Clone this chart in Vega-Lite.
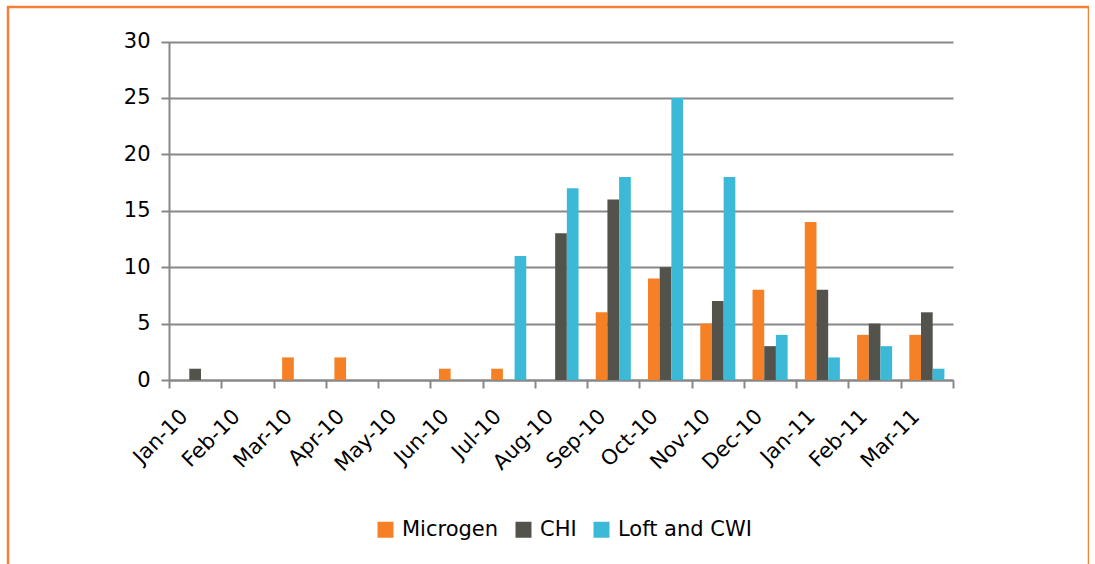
{
  "$schema": "https://vega.github.io/schema/vega-lite/v6.json",
  "width": 1081,
  "height": 600,
  "autosize": "none",
  "padding": {"left": 8, "top": 7, "right": 0, "bottom": 0},
  "background": "white",
  "config": {
    "view": {"stroke": "#F47F35", "strokeWidth": 2.5},
    "font": "DejaVu Sans"
  },
  "data": {
    "values": [
      {"month": "Jan-10", "series": "Microgen", "value": 0},
      {"month": "Jan-10", "series": "CHI", "value": 1},
      {"month": "Jan-10", "series": "Loft and CWI", "value": 0},
      {"month": "Feb-10", "series": "Microgen", "value": 0},
      {"month": "Feb-10", "series": "CHI", "value": 0},
      {"month": "Feb-10", "series": "Loft and CWI", "value": 0},
      {"month": "Mar-10", "series": "Microgen", "value": 2},
      {"month": "Mar-10", "series": "CHI", "value": 0},
      {"month": "Mar-10", "series": "Loft and CWI", "value": 0},
      {"month": "Apr-10", "series": "Microgen", "value": 2},
      {"month": "Apr-10", "series": "CHI", "value": 0},
      {"month": "Apr-10", "series": "Loft and CWI", "value": 0},
      {"month": "May-10", "series": "Microgen", "value": 0},
      {"month": "May-10", "series": "CHI", "value": 0},
      {"month": "May-10", "series": "Loft and CWI", "value": 0},
      {"month": "Jun-10", "series": "Microgen", "value": 1},
      {"month": "Jun-10", "series": "CHI", "value": 0},
      {"month": "Jun-10", "series": "Loft and CWI", "value": 0},
      {"month": "Jul-10", "series": "Microgen", "value": 1},
      {"month": "Jul-10", "series": "CHI", "value": 0},
      {"month": "Jul-10", "series": "Loft and CWI", "value": 11},
      {"month": "Aug-10", "series": "Microgen", "value": 0},
      {"month": "Aug-10", "series": "CHI", "value": 13},
      {"month": "Aug-10", "series": "Loft and CWI", "value": 17},
      {"month": "Sep-10", "series": "Microgen", "value": 6},
      {"month": "Sep-10", "series": "CHI", "value": 16},
      {"month": "Sep-10", "series": "Loft and CWI", "value": 18},
      {"month": "Oct-10", "series": "Microgen", "value": 9},
      {"month": "Oct-10", "series": "CHI", "value": 10},
      {"month": "Oct-10", "series": "Loft and CWI", "value": 25},
      {"month": "Nov-10", "series": "Microgen", "value": 5},
      {"month": "Nov-10", "series": "CHI", "value": 7},
      {"month": "Nov-10", "series": "Loft and CWI", "value": 18},
      {"month": "Dec-10", "series": "Microgen", "value": 8},
      {"month": "Dec-10", "series": "CHI", "value": 3},
      {"month": "Dec-10", "series": "Loft and CWI", "value": 4},
      {"month": "Jan-11", "series": "Microgen", "value": 14},
      {"month": "Jan-11", "series": "CHI", "value": 8},
      {"month": "Jan-11", "series": "Loft and CWI", "value": 2},
      {"month": "Feb-11", "series": "Microgen", "value": 4},
      {"month": "Feb-11", "series": "CHI", "value": 5},
      {"month": "Feb-11", "series": "Loft and CWI", "value": 3},
      {"month": "Mar-11", "series": "Microgen", "value": 4},
      {"month": "Mar-11", "series": "CHI", "value": 6},
      {"month": "Mar-11", "series": "Loft and CWI", "value": 1}
    ]
  },
  "mark": {"type": "bar"},
  "encoding": {
    "x": {
      "field": "month",
      "type": "nominal",
      "sort": ["Jan-10", "Feb-10", "Mar-10", "Apr-10", "May-10", "Jun-10", "Jul-10", "Aug-10", "Sep-10", "Oct-10", "Nov-10", "Dec-10", "Jan-11", "Feb-11", "Mar-11"],
      "scale": {"range": [161, 945], "paddingInner": 0, "paddingOuter": 0},
      "axis": {
        "title": null,
        "orient": "bottom",
        "offset": -227,
        "labelAngle": -45,
        "labelAlign": "right",
        "labelBaseline": "middle",
        "labelFontSize": 21,
        "labelColor": "#000000",
        "labelPadding": 25,
        "labelOffset": -11,
        "tickBand": "extent",
        "tickSize": 8,
        "tickColor": "#888888",
        "tickWidth": 2,
        "domainColor": "#888888",
        "domainWidth": 2,
        "grid": false
      }
    },
    "xOffset": {
      "field": "series",
      "type": "nominal",
      "sort": ["Microgen", "CHI", "Loft and CWI"],
      "scale": {"paddingInner": 0, "paddingOuter": 0.735}
    },
    "y": {
      "field": "value",
      "type": "quantitative",
      "scale": {"domain": [0, 30], "range": [373, 34.5], "nice": false, "zero": true},
      "axis": {
        "title": null,
        "offset": -161,
        "values": [0, 5, 10, 15, 20, 25, 30],
        "grid": true,
        "gridColor": "#888888",
        "gridWidth": 2,
        "tickSize": 8,
        "tickColor": "#888888",
        "tickWidth": 2,
        "domainColor": "#888888",
        "domainWidth": 2,
        "labelFontSize": 21,
        "labelColor": "#000000",
        "labelPadding": 11
      }
    },
    "color": {
      "field": "series",
      "type": "nominal",
      "sort": ["Microgen", "CHI", "Loft and CWI"],
      "scale": {"domain": ["Microgen", "CHI", "Loft and CWI"], "range": ["#F58025", "#53534B", "#3CB9D6"]},
      "legend": {
        "title": null,
        "orient": "none",
        "legendX": 367,
        "legendY": 512,
        "direction": "horizontal",
        "symbolType": "square",
        "symbolSize": 256,
        "symbolStrokeWidth": 0,
        "labelFontSize": 21,
        "labelColor": "#000000",
        "labelOffset": 6,
        "columnPadding": 14
      }
    }
  }
}
